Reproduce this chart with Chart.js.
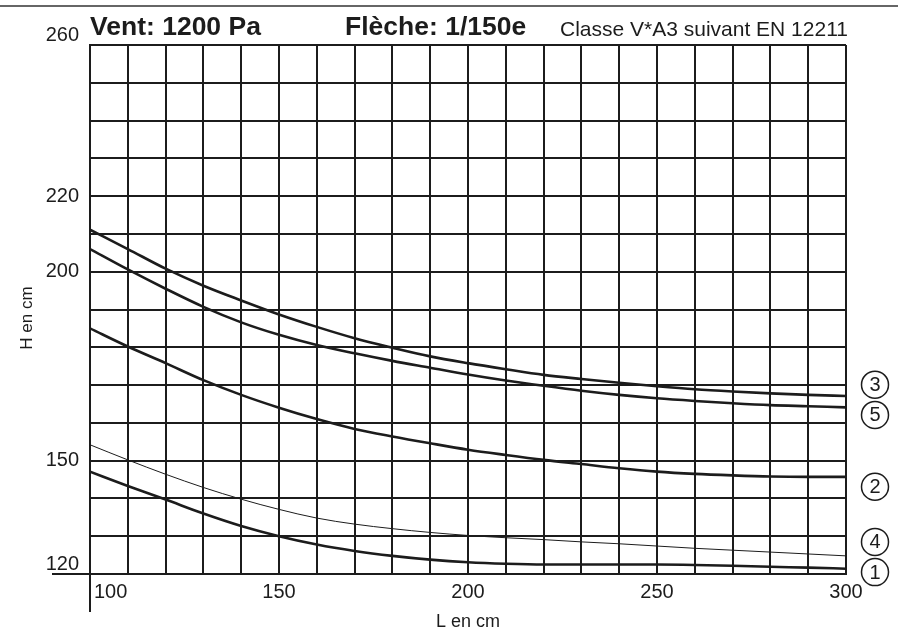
<!DOCTYPE html>
<html>
<head>
<meta charset="utf-8">
<script src="https://cdn.jsdelivr.net/npm/chart.js@4.4.1/dist/chart.umd.min.js"></script>
<style>
  html, body { margin: 0; background: #fff; }
  #wrap { width: 898px; height: 631px; position: relative; }
</style>
</head>
<body>
<div id="wrap"><canvas id="chart"></canvas></div>
<script>
const lengths = [100, 110, 120, 130, 140, 150, 160, 170, 180, 190, 200, 210, 220, 230, 240, 250, 260, 270, 280, 290, 300];
const curve1 = [147.1, 143.3, 139.7, 136.0, 132.7, 130.0, 127.8, 126.1, 124.8, 123.8, 123.1, 122.7, 122.5, 122.5, 122.5, 122.5, 122.4, 122.2, 121.9, 121.7, 121.4];
const curve2 = [185.0, 180.2, 175.8, 171.3, 167.4, 164.0, 161.0, 158.4, 156.4, 154.6, 152.9, 151.5, 150.2, 149.1, 148.0, 147.1, 146.5, 146.1, 145.8, 145.7, 145.7];
const curve3 = [211.1, 206.0, 200.8, 196.3, 192.4, 188.7, 185.4, 182.4, 179.9, 177.6, 175.8, 174.2, 172.7, 171.6, 170.6, 169.7, 168.9, 168.3, 167.8, 167.4, 167.1];
const curve4 = [154.2, 150.2, 146.4, 142.9, 139.8, 137.1, 134.8, 133.2, 132.0, 131.0, 130.2, 129.6, 129.1, 128.5, 128.0, 127.4, 126.8, 126.3, 125.8, 125.3, 124.8];
const curve5 = [206.0, 200.6, 195.5, 190.7, 186.6, 183.3, 180.6, 178.4, 176.4, 174.6, 172.8, 171.2, 169.8, 168.5, 167.4, 166.5, 165.8, 165.2, 164.7, 164.4, 164.1];

const xTicks = [100, 150, 200, 250, 300];
const yTicks = [120, 150, 200, 220, 260];
const curveTags = ['1', '2', '3', '4', '5'];
const tagValues = [120.5, 143.1, 170.1, 128.5, 162.1]; // H where each circled number sits

const FONT = '"Liberation Sans", Arial, sans-serif';
const INK = '#1c1c1c';

const toPoints = (ys) => lengths.map((x, i) => ({ x, y: ys[i] }));
const line = (ys, w) => ({
  data: toPoints(ys), borderColor: INK, borderWidth: w,
  pointRadius: 0, cubicInterpolationMode: 'monotone', fill: false
});

const decor = {
  id: 'decor',
  afterDraw(chart) {
    const { ctx, chartArea: a, scales: { x, y } } = chart;
    ctx.save();

    // thin rule across the very top
    ctx.strokeStyle = '#666'; ctx.lineWidth = 2;
    ctx.beginPath(); ctx.moveTo(0, 6); ctx.lineTo(898, 6); ctx.stroke();

    // axis lines running past the grid
    ctx.strokeStyle = INK; ctx.lineWidth = 2;
    ctx.beginPath();
    ctx.moveTo(a.left, a.bottom); ctx.lineTo(a.left, a.bottom + 38);
    ctx.moveTo(a.left - 38, a.bottom); ctx.lineTo(a.left, a.bottom);
    ctx.stroke();

    // heading
    ctx.fillStyle = INK; ctx.textBaseline = 'alphabetic'; ctx.textAlign = 'left';
    ctx.font = 'bold 26.5px ' + FONT;
    ctx.fillText('Vent: 1200 Pa', a.left, 35);
    ctx.fillText('Flèche: 1/150e', 345, 35);
    ctx.font = '21px ' + FONT;
    ctx.fillText('Classe V*A3 suivant EN 12211', 560, 36);

    // tick labels
    ctx.font = '20px ' + FONT;
    xTicks.forEach((v, i) => {
      const px = x.getPixelForValue(v);
      ctx.textAlign = i === 0 ? 'left' : 'center';
      ctx.fillText(String(v), i === 0 ? px + 4 : px, a.bottom + 24);
    });
    ctx.textAlign = 'right'; ctx.textBaseline = 'middle';
    yTicks.forEach((v) => {
      let py = y.getPixelForValue(v);
      if (v === y.min || v === y.max) py -= 10;
      ctx.fillText(String(v), 79, py);
    });

    // axis titles
    ctx.font = '18px ' + FONT; ctx.textAlign = 'center'; ctx.textBaseline = 'alphabetic';
    ctx.fillText('L en cm', (a.left + a.right) / 2, 627);
    ctx.save();
    ctx.translate(32, 318); ctx.rotate(-Math.PI / 2);
    ctx.font = '17px ' + FONT;
    ctx.fillText('H en cm', 0, 0);
    ctx.restore();

    // circled curve numbers
    ctx.lineWidth = 1.5; ctx.font = '20px ' + FONT; ctx.textBaseline = 'middle';
    curveTags.forEach((t, i) => {
      const py = y.getPixelForValue(tagValues[i]);
      ctx.beginPath(); ctx.arc(875, py, 13.5, 0, Math.PI * 2); ctx.stroke();
      ctx.fillText(t, 875, py + 1);
    });

    ctx.restore();
  }
};

new Chart(document.getElementById('chart'), {
  type: 'line',
  data: {
    datasets: [
      line(curve1, 2.6),
      line(curve2, 2.6),
      line(curve3, 2.6),
      line(curve4, 1),
      line(curve5, 2.6)
    ]
  },
  options: {
    responsive: true,
    maintainAspectRatio: false,
    animation: false,
    layout: { padding: { left: 90, right: 52, top: 45, bottom: 57 } },
    plugins: { legend: { display: false }, tooltip: { enabled: false } },
    scales: {
      x: {
        type: 'linear', min: 100, max: 300,
        ticks: { display: false, stepSize: 10 },
        grid: { color: INK, lineWidth: 2, drawTicks: false },
        border: { color: INK, width: 2 }
      },
      y: {
        type: 'linear', min: 120, max: 260,
        ticks: { display: false, stepSize: 10 },
        grid: { color: INK, lineWidth: 2, drawTicks: false },
        border: { color: INK, width: 2 }
      }
    }
  },
  plugins: [decor]
});
</script>
</body>
</html>
